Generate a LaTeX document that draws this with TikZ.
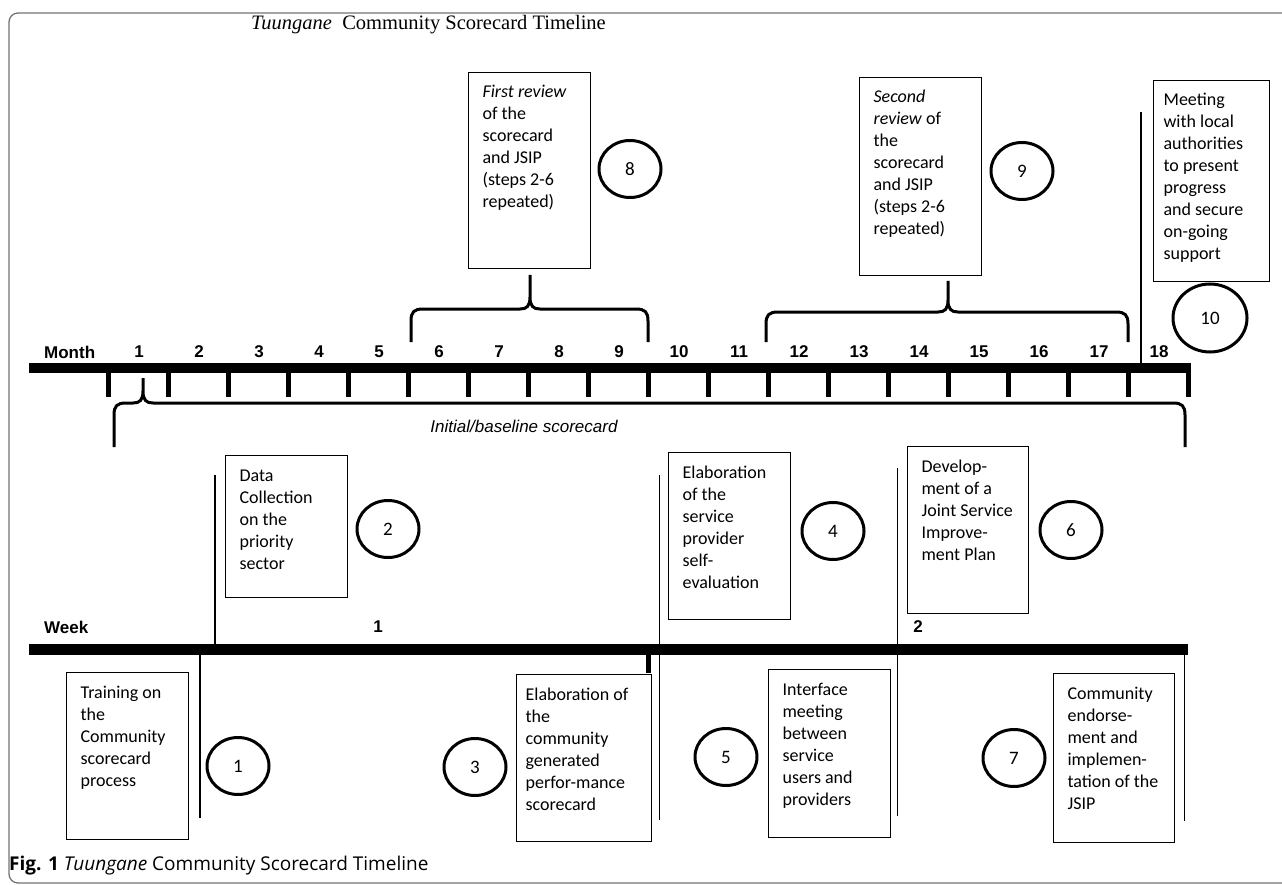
\documentclass[tikz,border=0pt]{standalone}
\usepackage{fontspec}
\setmainfont{Carlito}
\newfontfamily\arialf{Liberation Sans}
\newfontfamily\titlef{Liberation Serif}
\newfontfamily\capf{Open Sans}
\usetikzlibrary{shapes.geometric}
\newcommand\bx[7][14]{\node[stepbox, inner xsep=#1pt, anchor=north west] (#2) at (#3,#4) {\parbox[c][\dimexpr#6pt-20pt\relax][t]{\dimexpr#5pt-2\dimexpr#1pt\relax\relax}{\raggedright\strut #7}};}
\newcommand\hbrace[6]{%
 \draw[brc] (#1,#6) -- (#1,#4+12) .. controls (#1,#4+3) and (#1+3,#4) .. (#1+12,#4) -- (#3-10,#4) .. controls (#3-3,#4) and (#3,#4-3) .. (#3,#4-12) -- (#3,#5)
 (#3,#4-12) .. controls (#3,#4-3) and (#3+3,#4) .. (#3+10,#4) -- (#2-12,#4) .. controls (#2-3,#4) and (#2,#4+3) .. (#2,#4+12) -- (#2,#6);}
\begin{document}
\begin{tikzpicture}[x=1pt,y=-1pt,
 stepbox/.style={draw, line width=1.2pt, inner ysep=10pt, font=\fontsize{18}{22}\selectfont},
 numc/.style={ellipse, draw, line width=3pt, minimum width=62pt, minimum height=57pt, inner sep=0pt, font=\fontsize{19}{22}\selectfont},
 thickbar/.style={line width=10.5pt},
 tickmark/.style={line width=5pt},
 thinline/.style={line width=1.6pt},
 brc/.style={line width=3pt, line join=round},
 axislbl/.style={font=\arialf\bfseries\fontsize{17}{20}\selectfont, inner sep=0pt},
]
\useasboundingbox (0,0) rectangle (1282,885);
% frame
\draw[black!55, line width=1.3pt, rounded corners=9pt] (1300,13) -- (9,13) -- (9,883) -- (1300,883);
% title
\node[anchor=west, font=\titlef\fontsize{20.5}{24}\selectfont, inner sep=0pt] (title) at (251,25) {\textit{Tuungane}\ \ Community Scorecard Timeline};
% month axis
\coordinate (mb0) at (29,368);
\coordinate (mb1) at (1190.5,368);
\draw[thickbar] (mb0) -- (mb1);
\foreach \k in {0,...,18}{\coordinate (t\k) at ({108+60*\k},373); \draw[tickmark] (t\k) -- ++(0,24);}
\node[axislbl, anchor=west] (month) at (44,352) {Month};
\foreach \k in {1,...,18}{\node[axislbl] (m\k) at ({79+60*\k},352) {\k};}
% upper boxes
\bx{b8}{468}{72}{122}{196}{\textit{First review}\\of the\\scorecard\\and JSIP\\(steps 2-6\\repeated)}
\bx{b9}{859}{77}{122}{198}{\textit{Second}\\\textit{review} of\\the\\scorecard\\and JSIP\\(steps 2-6\\repeated)}
\bx[10]{b10}{1153}{80}{116}{201}{Meeting\\with local\\authorities\\to present\\progress\\and secure\\on-going\\support}
\node[numc] (c8) at (630,169) {8};
\node[numc] (c9) at (1022,171) {9};
\node[numc, minimum width=74pt, minimum height=68pt] (c10) at (1210,318) {10};
\coordinate (l6a) at (1141,112); \coordinate (l6b) at (1141,363);
\draw[thinline] (l6a) -- (l6b);
\hbrace{411}{648}{530}{309}{275}{342}
\hbrace{766}{1128}{948}{312}{281}{342}
% initial brace
\hbrace{114}{1185}{143}{403}{378}{447}
\node[font=\arialf\itshape\fontsize{17}{20}\selectfont, inner sep=0pt] (ib) at (524,426) {Initial/baseline scorecard};
% middle boxes
\bx{b2}{225}{455}{122}{142}{Data\\Collection\\on the\\priority\\sector}
\bx{b4}{668}{452}{122}{167}{Elaboration\\of the\\service\\provider\\self-\\evaluation}
\bx{b6}{907}{446}{121}{167}{Develop-\\ment of a\\Joint Service\\Improve-\\ment Plan}
\node[numc] (c2) at (388,529) {2};
\node[numc] (c4) at (833,531) {4};
\node[numc] (c6) at (1071,530) {6};
% week axis
\coordinate (wb0) at (29,649.5);
\coordinate (wb1) at (1188,649.5);
\coordinate (l2a) at (215,475); \coordinate (l2b) at (215,644);
\coordinate (l3a) at (659.5,475); \coordinate (l3b) at (659.5,820);
\coordinate (l4a) at (897.5,468); \coordinate (l4b) at (897.5,816);
\coordinate (l1a) at (200,655); \coordinate (l1b) at (200,818);
\coordinate (l5a) at (1184.5,655); \coordinate (l5b) at (1184.5,821);
\coordinate (tk3a) at (648,655); \coordinate (tk3b) at (648,673);
\draw[thinline] (l2a) -- (l2b);
\draw[thinline] (l3a) -- (l3b);
\draw[thinline] (l4a) -- (l4b);
\draw[thinline] (l1a) -- (l1b);
\draw[thinline] (l5a) -- (l5b);
\draw[tickmark] (tk3a) -- (tk3b);
\draw[thickbar, line width=11pt] (wb0) -- (wb1);
\node[axislbl, anchor=west] (week) at (44,627) {Week};
\node[axislbl] (w1) at (378,627) {1};
\node[axislbl] (w2) at (918,627) {2};
% lower boxes
\bx{b1}{66}{672}{122}{167}{Training on\\the\\Community\\scorecard\\process}
\bx[9]{b3}{516}{674}{135}{167}{Elaboration of\\the\\community\\generated\\perfor-mance\\scorecard}
\bx{b5}{768}{669}{122}{168}{Interface\\meeting\\between\\service\\users and\\providers}
\bx{b7}{1053}{673}{121}{169}{Community\\endorse-\\ment and\\implemen-\\tation of the\\JSIP}
\node[numc] (c1) at (238,766) {1};
\node[numc] (c3) at (475,767) {3};
\node[numc] (c5) at (726,757) {5};
\node[numc] (c7) at (1014,758) {7};
% caption
\node[anchor=west, font=\capf\fontsize{19}{22}\selectfont, inner sep=0pt] (cap) at (9,866) {\textbf{Fig. 1} \textit{Tuungane} Community Scorecard Timeline};
\end{tikzpicture}
\end{document}
